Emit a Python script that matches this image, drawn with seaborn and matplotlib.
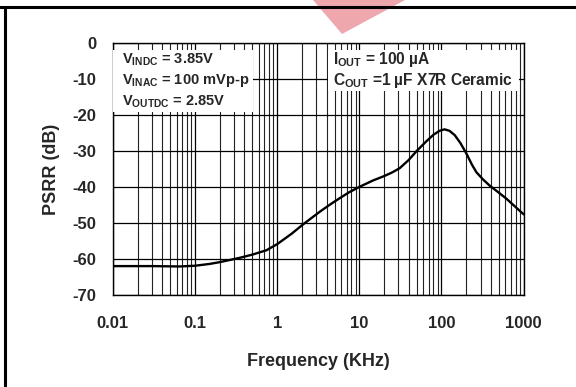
import seaborn as sns
import matplotlib.pyplot as plt
import matplotlib.ticker as mticker
from matplotlib.lines import Line2D
from matplotlib.patches import Polygon, Rectangle
import pandas as pd

# PSRR curve
freq_khz = [0.01, 0.03, 0.065, 0.1, 0.15, 0.2, 0.265, 0.35, 0.5, 0.74, 1.0, 1.5,
            2.07, 3.3, 4.4, 5.8, 7.5, 10, 14.7, 20, 25, 31, 40, 50, 65, 80, 95,
            109, 125, 145, 170, 200, 235, 266, 320, 385, 500, 620, 800, 1000]
psrr_db = [-62.0, -62.0, -62.1, -61.9, -61.4, -60.9, -60.3, -59.7, -58.8, -57.6,
           -55.9, -53.0, -50.4, -46.9, -44.9, -43.1, -41.5, -40.0, -38.2, -37.0,
           -36.0, -34.8, -32.5, -30.0, -27.4, -25.5, -24.4, -24.0, -24.4, -25.6,
           -27.8, -30.6, -33.8, -35.9, -37.9, -39.6, -41.6, -43.3, -45.6, -47.6]

x_ticks = [0.01, 0.1, 1, 10, 100, 1000]
x_labels = ['0.01', '0.1', '1', '10', '100', '1000']
y_ticks = [-70, -60, -50, -40, -30, -20, -10, 0]

left_notes = [r'V$_{\mathbf{INDC}}$ = 3.85V',
              r'V$_{\mathbf{INAC}}$ = 100 mVp-p',
              r'V$_{\mathbf{OUTDC}}$ = 2.85V']
right_notes = [r'I$_{\mathbf{OUT}}$ = 100 µA',
               r'C$_{\mathbf{OUT}}$ =1 µF X7R Ceramic']

sns.set_style("white")
plt.rcParams['font.family'] = ['Liberation Sans', 'DejaVu Sans']
plt.rcParams['font.weight'] = 'bold'
plt.rcParams['axes.unicode_minus'] = False
plt.rcParams['mathtext.fontset'] = 'custom'
plt.rcParams['mathtext.rm'] = 'Liberation Sans:bold'
plt.rcParams['mathtext.bf'] = 'Liberation Sans:bold'
plt.rcParams['mathtext.it'] = 'Liberation Sans:bold'

df = pd.DataFrame({'freq': freq_khz, 'psrr': psrr_db})

fig = plt.figure(figsize=(5.76, 3.87), dpi=100)
ax = fig.add_axes([0.196, 0.238, 0.713, 0.651])

ax.set_xscale('log')
sns.lineplot(data=df, x='freq', y='psrr', color='black', linewidth=1.7, ax=ax, zorder=3)

ax.set_xlim(0.01, 1000)
ax.set_ylim(-70, 0)
ax.xaxis.set_major_locator(mticker.FixedLocator(x_ticks))
ax.xaxis.set_major_formatter(mticker.FixedFormatter(x_labels))
ax.xaxis.set_minor_locator(mticker.LogLocator(base=10, subs=range(2, 10), numticks=20))
ax.xaxis.set_minor_formatter(mticker.NullFormatter())
ax.set_yticks(y_ticks)

ax.grid(True, which='major', color='black', linewidth=0.9)
ax.grid(True, which='minor', axis='x', color='#222222', linewidth=0.8)
ax.tick_params(axis='both', which='both', length=0, labelsize=12)
ax.tick_params(axis='x', pad=15)
ax.tick_params(axis='y', pad=12)
for s in ax.spines.values():
    s.set_color('black')
    s.set_linewidth(1.0)

ax.set_xlabel('Frequency (KHz)', fontsize=13, fontweight='bold', labelpad=16)
ax.set_ylabel('PSRR (dB)', fontsize=13, fontweight='bold', labelpad=9)

# white boxes for the condition notes
ax.add_patch(Rectangle((0.0, 0.726), 0.341, 0.246, transform=ax.transAxes,
                       facecolor='white', edgecolor='none', zorder=4))
ax.add_patch(Rectangle((0.523, 0.810), 0.467, 0.162, transform=ax.transAxes,
                       facecolor='white', edgecolor='none', zorder=4))
line_y = [0.9325, 0.849, 0.766]
for txt, yy in zip(left_notes, line_y):
    ax.text(0.022, yy, txt, transform=ax.transAxes, fontsize=10.5,
            va='center', ha='left', zorder=5)
for txt, yy in zip(right_notes, line_y):
    ax.text(0.536, yy, txt, transform=ax.transAxes, fontsize=11.2,
            va='center', ha='left', zorder=5)

# cropped frame of the original page
fig.add_artist(Line2D([0, 1], [0.982, 0.982], transform=fig.transFigure, color='black', linewidth=2.2))
fig.add_artist(Line2D([0.009, 0.009], [0, 0.982], transform=fig.transFigure, color='black', linewidth=2.2))
# faint red watermark
fig.add_artist(Polygon([[313 / 576, 1.0], [405 / 576, 1.0], [342 / 576, 1 - 34 / 387]],
                       closed=True, transform=fig.transFigure, facecolor='#e0505e',
                       alpha=0.5, edgecolor='none'))

fig.savefig('out.png', dpi=100)
